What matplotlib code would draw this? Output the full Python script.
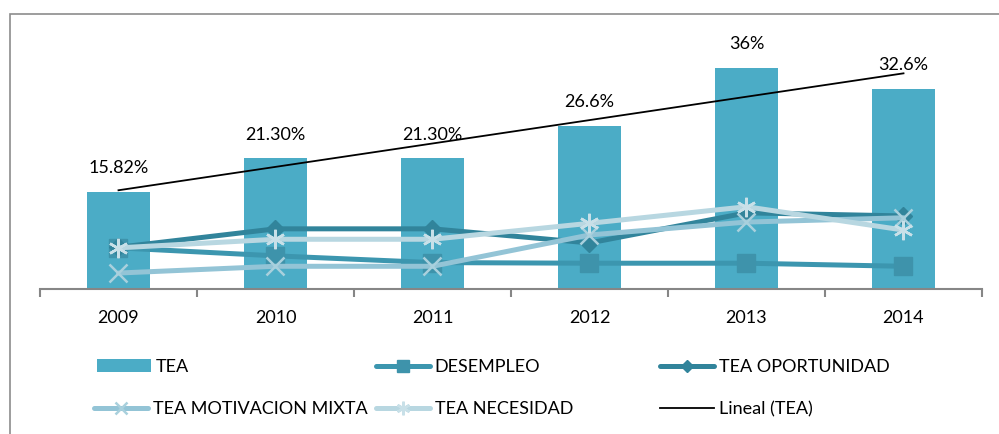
import matplotlib.pyplot as plt
import numpy as np
from matplotlib.patches import Rectangle

plt.rcParams['font.family'] = ['Lato', 'DejaVu Sans']

years = ['2009', '2010', '2011', '2012', '2013', '2014']
tea = [15.82, 21.3, 21.3, 26.6, 36.0, 32.6]
tea_labels = ['15.82%', '21.30%', '21.30%', '26.6%', '36%', '32.6%']
desempleo = [6.7, 5.4, 4.3, 4.2, 4.2, 3.7]
oportunidad = [6.8, 9.8, 9.8, 7.5, 12.4, 11.9]
mixta = [2.6, 3.7, 3.7, 8.8, 10.9, 11.6]
necesidad = [6.7, 8.1, 8.1, 10.7, 13.4, 9.6]

W, H = 999, 434
fig = plt.figure(figsize=(W / 100, H / 100), dpi=100)
ax = fig.add_axes([40 / W, 145 / H, 942 / W, 245.6 / H])

x = np.arange(len(years))

# bars
bars = ax.bar(x, tea, width=0.4, color='#4BACC6', zorder=2, label='TEA')
for xi, v, lab in zip(x, tea, tea_labels):
    ax.annotate(lab, (xi, v), xytext=(0, 17), textcoords='offset points',
                ha='center', va='center', fontsize=13, color='black')

# lines
l1, = ax.plot(x, desempleo, color='#3C96AF', lw=3.6, marker='s', ms=13,
              mfc='#3E93AB', mec='#3E93AB', zorder=3, label='DESEMPLEO',
              solid_capstyle='round')
l2, = ax.plot(x, oportunidad, color='#31849B', lw=3.6, marker='D', ms=9,
              mfc='#31849B', mec='#31849B', zorder=4, label='TEA OPORTUNIDAD',
              solid_capstyle='round')
l3, = ax.plot(x, mixta, color='#93C4D6', lw=3.6, marker='x', ms=13, mew=1.8,
              mec='#A9D0DD', zorder=5, label='TEA MOTIVACION MIXTA',
              solid_capstyle='round')
l4, = ax.plot(x, necesidad, color='#B8D7E1', lw=3.6, marker=(6, 2, 0), ms=14,
              mew=1.8, mec='#C8E0E8', zorder=6, label='TEA NECESIDAD',
              solid_capstyle='round')

# linear trend of TEA
coef = np.polyfit(x, tea, 1)
l5, = ax.plot(x, np.polyval(coef, x), color='black', lw=1.3, zorder=7,
              label='Lineal (TEA)')

ax.set_xlim(-0.5, len(years) - 0.5)
ax.set_ylim(0, 40)
ax.set_yticks([])
for s in ['top', 'left', 'right']:
    ax.spines[s].set_visible(False)
ax.spines['bottom'].set_color('#868686')
ax.spines['bottom'].set_linewidth(1.5)

ax.set_xticks(np.arange(-0.5, len(years)), [''] * (len(years) + 1))
ax.tick_params(axis='x', which='major', length=6, width=1.5, color='#868686')
ax.set_xticks(x, years, minor=True)
ax.tick_params(axis='x', which='minor', length=0, pad=15, labelsize=13)

# outer frame
fig.add_artist(Rectangle((10 / W, -0.1), 1.2, 1 - 14 / H + 0.1,
                         transform=fig.transFigure, fill=False,
                         edgecolor='#8C8C8C', lw=1.2))

# legend, one entry each, placed like the original
entries = [(bars, 97, 367), (l1, 376, 367), (l2, 660, 367),
           (l3, 94, 409), (l4, 376, 409), (l5, 660, 409)]
for h, px, py in entries:
    leg = fig.legend([h], [h.get_label()], loc='center left',
                     bbox_to_anchor=(px / W, 1 - py / H), frameon=False,
                     borderpad=0, borderaxespad=0, handlelength=3.0,
                     handletextpad=0.25, fontsize=13, numpoints=1,
                     markerscale=0.7)

fig.savefig('out.png', dpi=100)
